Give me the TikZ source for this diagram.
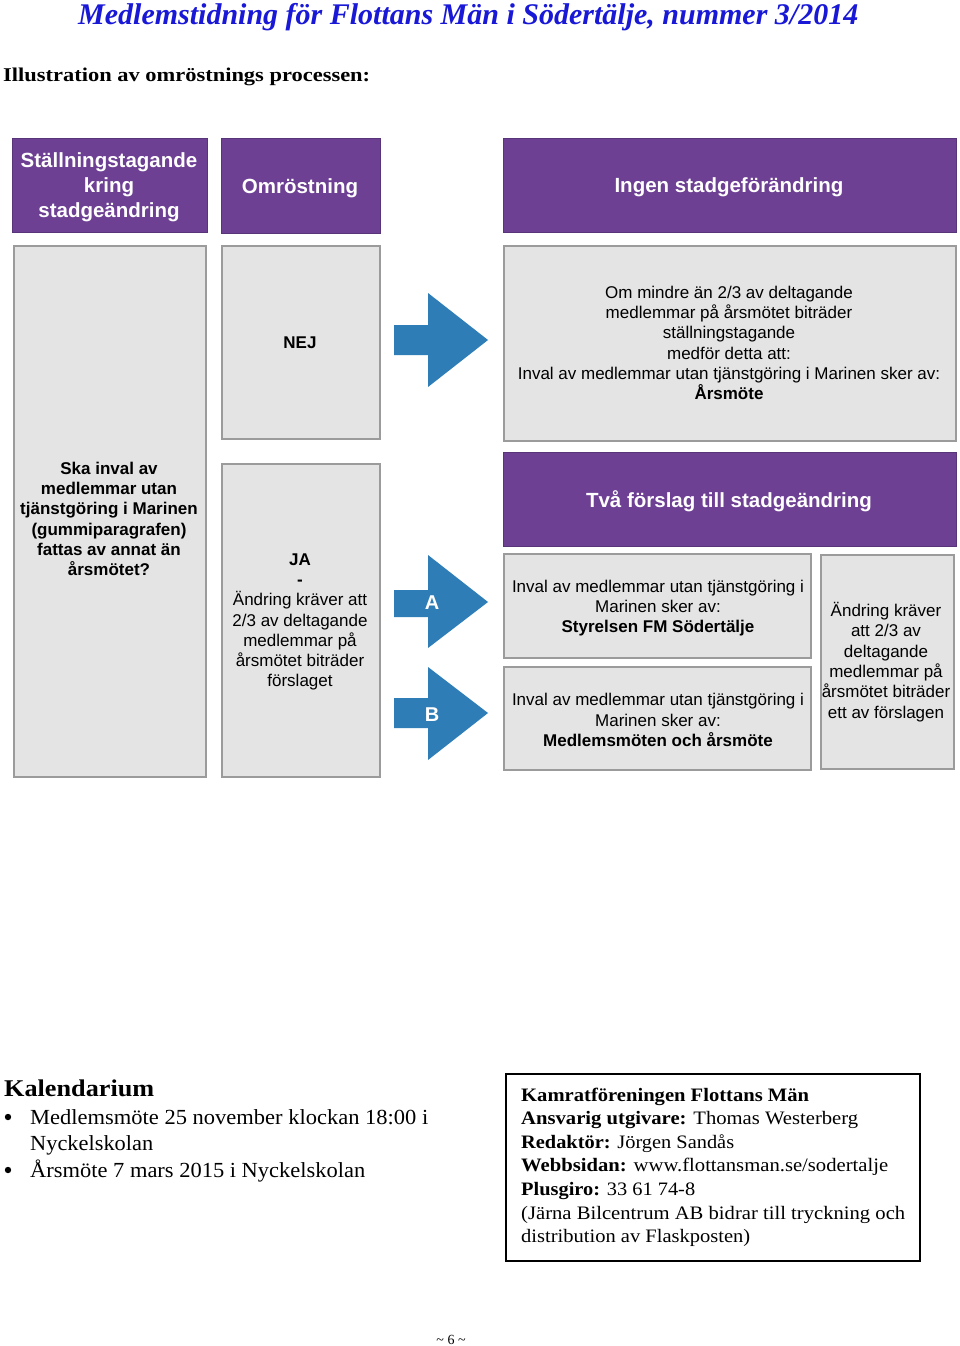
\documentclass[tikz,border=0pt]{standalone}
\usepackage{fontspec}
\setmainfont{Liberation Serif}
\setsansfont{Liberation Sans}
\usepackage{graphicx}
\definecolor{purp}{RGB}{110,64,148}
\definecolor{purpd}{RGB}{88,52,120}
\definecolor{boxgray}{RGB}{228,228,228}
\definecolor{boxedge}{RGB}{155,155,155}
\definecolor{arrblue}{RGB}{46,125,182}
\definecolor{titleblue}{RGB}{24,24,214}
\newcommand{\cond}[2]{\resizebox{#1pt}{\height}{#2}}
\begin{document}
\begin{tikzpicture}[x=1pt,y=-1pt,
  purpbox/.style={fill=purp, draw=purpd, line width=0.8pt, anchor=north west, inner sep=0},
  graybox/.style={fill=boxgray, draw=boxedge, line width=2pt, anchor=north west, inner sep=0},
  htxt/.style={text=white, font=\sffamily\bfseries\fontsize{20.5}{25}\selectfont, align=center, inner sep=0},
  btxt/.style={font=\sffamily\fontsize{17}{20.3}\selectfont, align=center, inner sep=0},
  bbtxt/.style={font=\sffamily\bfseries\fontsize{17}{20.3}\selectfont, align=center, inner sep=0},
  arrlbl/.style={text=white, font=\sffamily\bfseries\fontsize{20}{24}\selectfont, inner sep=0},
  blockarrow/.style={fill=arrblue},
  serif/.style={inner sep=0, anchor=base west}
]
\useasboundingbox (0,0) rectangle (960,1346);
\fill[white] (0,0) rectangle (960,1346);

% headings
\node[serif, text=titleblue] (title) at (78,25)
  {\cond{780}{\fontsize{30}{34}\selectfont\bfseries\itshape Medlemstidning för Flottans Män i Södertälje, nummer 3/2014}};
\node[serif] (illu) at (3,81)
  {\cond{367}{\fontsize{19.5}{24}\selectfont\bfseries Illustration av omröstnings processen:}};

% purple headers
\node[purpbox, minimum width=195, minimum height=94] (p1) at (12,138) {};
\node[purpbox, minimum width=159, minimum height=95] (p2) at (221,138) {};
\node[purpbox, minimum width=453, minimum height=94] (p3) at (503,138) {};
\node[htxt] (p1t) at (109,187) {Ställningstagande\\kring\\stadgeändring};
\node[htxt] (p2t) at (300,188) {Omröstning};
\node[htxt] (p3t) at (729,187) {Ingen stadgeförändring};

% gray boxes
\node[graybox, minimum width=192, minimum height=531] (g1) at (13,245) {};
\node[graybox, minimum width=158, minimum height=193] (g2) at (221,245) {};
\node[graybox, minimum width=452, minimum height=195] (g3) at (503,245) {};
\node[graybox, minimum width=158, minimum height=313] (g4) at (221,463) {};
\node[purpbox, minimum width=453, minimum height=94] (p4) at (503,452) {};
\node[graybox, minimum width=307, minimum height=104] (g5) at (503,553) {};
\node[graybox, minimum width=307, minimum height=103] (g6) at (503,666) {};
\node[graybox, minimum width=133, minimum height=214] (g7) at (820,554) {};

\node[bbtxt] (g1t) at (109,519) {Ska inval av\\medlemmar utan\\tjänstgöring i Marinen\\(gummiparagrafen)\\fattas av annat än\\årsmötet?};
\node[bbtxt] (g2t) at (300,343) {NEJ};
\node[btxt] (g3t) at (729,343) {Om mindre än 2/3 av deltagande\\medlemmar på årsmötet biträder\\ställningstagande\\medför detta att:\\Inval av medlemmar utan tjänstgöring i Marinen sker av:\\\textbf{Årsmöte}};
\node[btxt] (g4t) at (300,622) {\textbf{JA}\\\textbf{-}\\Ändring kräver att\\2/3 av deltagande\\medlemmar på\\årsmötet biträder\\förslaget};
\node[htxt] (p4t) at (729,501) {Två förslag till stadgeändring};
\node[btxt] (g5t) at (658,608) {Inval av medlemmar utan tjänstgöring i\\Marinen sker av:\\\textbf{Styrelsen FM Södertälje}};
\node[btxt] (g6t) at (658,720) {Inval av medlemmar utan tjänstgöring i\\Marinen sker av:\\\textbf{Medlemsmöten och årsmöte}};
\node[btxt] (g7t) at (886,662) {Ändring kräver\\att 2/3 av\\deltagande\\medlemmar på\\årsmötet biträder\\ett av förslagen};

% block arrows
\fill[blockarrow] (394,325) -- (428,325) -- (428,293) -- (488,340) -- (428,387) -- (428,355) -- (394,355) -- cycle;
\fill[blockarrow] (394,590) -- (428,590) -- (428,555) -- (488,602) -- (428,648) -- (428,617) -- (394,617) -- cycle;
\fill[blockarrow] (394,698) -- (428,698) -- (428,667) -- (488,713) -- (428,760) -- (428,728) -- (394,728) -- cycle;
\node[arrlbl] (la) at (432,603) {A};
\node[arrlbl] (lb) at (432,715) {B};

% Kalendarium
\node[serif] (kal) at (4,1096) {\cond{150}{\fontsize{24}{28}\selectfont\bfseries Kalendarium}};
\fill (8,1117) circle (3.2);
\fill (8,1170) circle (3.2);
\node[serif] (k1) at (30,1124) {\cond{398}{\fontsize{21.5}{26}\selectfont Medlemsmöte 25 november klockan 18:00 i}};
\node[serif] (k2) at (30,1150) {\cond{123}{\fontsize{21.5}{26}\selectfont Nyckelskolan}};
\node[serif] (k3) at (30,1177) {\cond{335}{\fontsize{21.5}{26}\selectfont Årsmöte 7 mars 2015 i Nyckelskolan}};

% info box
\draw[line width=2pt] (506,1074) rectangle (920,1261);
\node[serif] (i1) at (521,1101) {\cond{288}{\fontsize{19}{23}\selectfont\bfseries Kamratföreningen Flottans Män}};
\node[serif] (i2) at (521,1124.6) {\cond{337}{\fontsize{19}{23}\selectfont\textbf{Ansvarig utgivare:} Thomas Westerberg}};
\node[serif] (i3) at (521,1148.2) {\cond{213}{\fontsize{19}{23}\selectfont\textbf{Redaktör:} Jörgen Sandås}};
\node[serif] (i4) at (521,1171.8) {\cond{367}{\fontsize{19}{23}\selectfont\textbf{Webbsidan:} www.flottansman.se/sodertalje}};
\node[serif] (i5) at (521,1195.4) {\cond{174}{\fontsize{19}{23}\selectfont\textbf{Plusgiro:} 33 61 74-8}};
\node[serif] (i6) at (521,1219) {\cond{384}{\fontsize{19}{23}\selectfont (Järna Bilcentrum AB bidrar till tryckning och}};
\node[serif] (i7) at (521,1242.6) {\cond{229}{\fontsize{19}{23}\selectfont distribution av Flaskposten)}};

\node[inner sep=0] (page) at (451,1340) {\fontsize{14}{16}\selectfont \textasciitilde\ 6 \textasciitilde};
\end{tikzpicture}
\end{document}
